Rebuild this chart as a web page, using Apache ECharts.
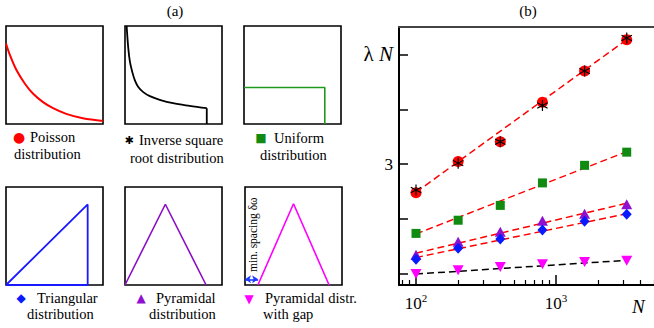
<!DOCTYPE html>
<html><head><meta charset="utf-8">
<script src="https://cdn.jsdelivr.net/npm/echarts@6/dist/echarts.min.js"></script>
<style>html,body{margin:0;padding:0;background:#fff}#c{width:654px;height:328px}</style>
</head><body><div id="c"></div>
<script>
// ---------- panel (b) data ----------
const sizesN = [100, 200, 400, 800, 1600, 3200];
const poissonVals = [2.48, 3.05, 3.41, 4.13, 4.70, 5.27];
const invSqrtVals = [2.53, 3.02, 3.41, 4.07, 4.70, 5.30];
const uniformVals = [1.74, 1.98, 2.25, 2.66, 2.98, 3.22];
const pyramidVals = [1.35, 1.59, 1.77, 1.97, 2.10, 2.27];
const triangVals = [1.27, 1.47, 1.64, 1.80, 1.96, 2.09];
const gapVals = [1.00, 1.07, 1.13, 1.18, 1.22, 1.24];
const fitN = [100, 3200];
const fitPoisson = [2.49, 5.27];
const fitUniform = [1.73, 3.23];
const fitPyramid = [1.38, 2.29];
const fitTriang = [1.30, 2.10];
const fitGap = [1.00, 1.25];
const xMajorTicks = [100, 1000];
const xMajorLabels = ['10|2', '10|3'];
const xMinorTicks = [80, 90, 200, 300, 400, 500, 600, 700, 800, 900, 2000, 3000, 4000, 5000];
const yTicks = [1, 2, 3, 4, 5];
const yLabels = [3, 5];

// ---------- panel (a) data ----------
const poissonX = [0, 0.041, 0.109, 0.195, 0.28, 0.382, 0.485, 0.621, 0.792, 1];
const poissonY = [0.822, 0.702, 0.548, 0.411, 0.308, 0.223, 0.161, 0.103, 0.058, 0.031];
const invX = [0.017, 0.034, 0.051, 0.075, 0.102, 0.137, 0.188, 0.256, 0.358, 0.495, 0.666, 0.843];
const invY = [1.0, 0.771, 0.634, 0.531, 0.445, 0.377, 0.325, 0.284, 0.247, 0.212, 0.185, 0.161];
const invDropX = [0.843, 0.843];
const invDropY = [0.161, 0];
const uniX = [0, 0.833, 0.833];
const uniY = [0.373, 0.373, 0];
const triX = [0, 0.842, 0.842, 0];
const triY = [0, 0.822, 0, 0];
const pyrX = [0, 0.416, 0.836];
const pyrY = [0, 0.824, 0];
const gapX = [0.133, 0.50, 0.867];
const gapY = [0, 0.829, 0];
const arrowX = [0, 0.135];
const arrowY = [0.058, 0.058];

const SERIF = "'Liberation Serif','Times New Roman',serif";
const zip = (xs, ys) => xs.map((x, i) => [x, ys[i]]);

const boxes = [
  {left: 6, top: 26}, {left: 125, top: 26}, {left: 244, top: 26},
  {left: 6, top: 187}, {left: 125, top: 187}, {left: 245, top: 187}
];
const grids = boxes.map(b => ({left: b.left, top: b.top, width: 97, height: 98, show: true,
  borderColor: '#000', borderWidth: 1.6, backgroundColor: 'transparent'}));
grids.push({left: 399, top: 27, right: 0, bottom: 43});

const xAxes = boxes.map((b, i) => ({gridIndex: i, type: 'value', min: 0, max: 1, show: false}));
const yAxes = boxes.map((b, i) => ({gridIndex: i, type: 'value', min: 0, max: 1, show: false}));
const xMin = 75.6, xMax = 5012;
xAxes.push({gridIndex: 6, type: 'log', logBase: 10, min: xMin, max: xMax, position: 'bottom',
  axisLine: {show: true, lineStyle: {color: '#000', width: 2}},
  axisTick: {show: true, inside: true, length: 10, customValues: xMajorTicks, lineStyle: {color: '#000', width: 1.5}},
  axisLabel: {show: true, customValues: xMajorTicks, margin: 4, color: '#000', fontFamily: SERIF,
    formatter: v => {
      const i = xMajorTicks.findIndex(t => Math.abs(t - v) / t < 1e-6);
      const parts = xMajorLabels[i < 0 ? 0 : i].split('|');
      return '{b|' + parts[0] + '}{s|' + parts[1] + '}';
    },
    rich: {b: {fontFamily: SERIF, fontSize: 17, color: '#000', padding: [6, 0, 0, 0]},
      s: {fontFamily: SERIF, fontSize: 11, color: '#000', padding: [0, 0, 6, 0]}}},
  splitLine: {show: false}, minorTick: {show: false},
  name: 'N', nameLocation: 'end', nameGap: -22,
  nameTextStyle: {fontFamily: SERIF, fontStyle: 'italic', fontSize: 19, color: '#000', verticalAlign: 'top', padding: [12, 0, 0, 0]}
});
xAxes.push({gridIndex: 6, type: 'log', logBase: 10, min: xMin, max: xMax, position: 'bottom',
  axisLine: {show: false},
  axisTick: {show: true, inside: true, length: 5, customValues: xMinorTicks, lineStyle: {color: '#000', width: 1.2}},
  axisLabel: {show: false}, splitLine: {show: false}
});
xAxes.push({gridIndex: 6, type: 'log', logBase: 10, min: xMin, max: xMax, position: 'top',
  axisLine: {show: true, lineStyle: {color: '#444', width: 2}},
  axisTick: {show: false}, axisLabel: {show: false}, splitLine: {show: false}
});
yAxes.push({gridIndex: 6, type: 'value', min: 0.8, max: 5.5,
  axisLine: {show: true, lineStyle: {color: '#000', width: 2}},
  axisTick: {show: true, inside: true, length: 9, customValues: yTicks, lineStyle: {color: '#000', width: 1.5}},
  axisLabel: {show: true, customValues: yLabels, margin: 6, color: '#000', fontFamily: SERIF,
    formatter: v => (v === 5 ? '{l|\u03BB }{n|N}' : '{t|3}'),
    rich: {l: {fontFamily: SERIF, fontSize: 21, color: '#000'}, n: {fontFamily: SERIF, fontSize: 21, fontStyle: 'italic', color: '#000'},
      t: {fontFamily: SERIF, fontSize: 17, color: '#000'}}},
  splitLine: {show: false}
});

function small(i, xs, ys, color, w, smooth) {
  return {type: 'line', xAxisIndex: i, yAxisIndex: i, data: zip(xs, ys), symbol: 'none',
    smooth: smooth ? 0.35 : false,
    lineStyle: {color: color, width: w}, clip: true, silent: true, z: 3};
}
const series = [
  small(0, poissonX, poissonY, '#ff0000', 2, true),
  small(1, invX, invY, '#000', 1.8, true),
  small(1, invDropX, invDropY, '#000', 1.8, false),
  small(2, uniX, uniY, '#1f9a1f', 1.6, false),
  small(3, triX, triY, '#1a1aff', 1.8, false),
  small(4, pyrX, pyrY, '#8a10c8', 1.6, false),
  small(5, gapX, gapY, '#ff00ff', 1.6, false),
  {type: 'line', xAxisIndex: 5, yAxisIndex: 5, data: [], symbol: 'none',
    markLine: {silent: true, symbol: ['arrow', 'arrow'], symbolSize: [6, 6], label: {show: false},
      lineStyle: {color: '#1a3aff', width: 1.6, type: 'solid'},
      data: [[{coord: [arrowX[0], arrowY[0]]}, {coord: [arrowX[1], arrowY[1]]}]]}}
];

function fit(vals, color) {
  return {type: 'line', xAxisIndex: 6, yAxisIndex: 6, data: zip(fitN, vals), symbol: 'none',
    lineStyle: {color: color, width: 1.5, type: [7, 4]}, z: 2, silent: true};
}
series.push(fit(fitPoisson, '#ff0000'), fit(fitUniform, '#ff0000'), fit(fitPyramid, '#ff0000'),
  fit(fitTriang, '#ff0000'), fit(fitGap, '#000'));

const asterisk = 'path://M-1,-10L1,-10L1,10L-1,10Z M9.16,4.134L8.16,5.866L-9.16,-4.134L-8.16,-5.866Z M8.16,-5.866L9.16,-4.134L-8.16,5.866L-9.16,4.134Z';
function marks(vals, symbol, size, color, extra) {
  return Object.assign({type: 'scatter', xAxisIndex: 6, yAxisIndex: 6, data: zip(sizesN, vals), symbol: symbol,
    symbolSize: size, itemStyle: {color: color, opacity: 1}, z: 5, silent: true, clip: false}, extra || {});
}
series.push(
  marks(poissonVals, 'circle', 11, '#ff0000'),
  marks(invSqrtVals, asterisk, 11, '#000', {z: 6}),
  marks(uniformVals, 'rect', 9, '#118a11'),
  marks(pyramidVals, 'triangle', [11, 10], '#9010d0'),
  marks(triangVals, 'diamond', [10, 11], '#0a1aff'),
  marks(gapVals, 'triangle', [11, 10], '#ff00ff', {symbolRotate: 180})
);

function txt(x, y, text, opt) {
  return {type: 'text', x: x, y: y, silent: true, style: Object.assign({text: text, fontFamily: SERIF, fontSize: 14.5,
    fill: '#000', textAlign: 'left', textVerticalAlign: 'middle'}, opt || {})};
}
function glyph(x, y, ch, color, size) {
  return {type: 'text', x: x, y: y, silent: true, style: {text: ch, fontFamily: "'DejaVu Sans',sans-serif", fontSize: size,
    fill: color, textAlign: 'center', textVerticalAlign: 'middle'}};
}
const graphics = [
  txt(175, 11, '(a)', {textAlign: 'center', fontSize: 15}),
  txt(528, 11, '(b)', {textAlign: 'center', fontSize: 15}),
  glyph(19, 137, '\u25CF', '#ff0000', 14), txt(30, 137, 'Poisson'), txt(14, 154, 'distribution'),
  glyph(129, 140, '\u2731', '#000', 11), txt(139, 140, 'Inverse square'), txt(130, 158, 'root distribution'),
  glyph(261, 138, '\u25A0', '#118a11', 12), txt(274, 138, 'Uniform'), txt(260, 155, 'distribution'),
  glyph(21, 298, '\u25C6', '#0a1aff', 12), txt(37, 298, 'Triangular'), txt(27, 314, 'distribution'),
  glyph(141, 298, '\u25B2', '#9010d0', 12), txt(156, 298, 'Pyramidal'), txt(149, 314, 'distribution'),
  glyph(249, 299, '\u25BC', '#ff00ff', 12), txt(265, 298, 'Pyramidal distr.'), txt(263, 314, 'with gap'),
  {type: 'text', x: 253, y: 272, rotation: Math.PI / 2, silent: true,
    style: {text: 'min. spacing \u03B4\u03C9', fontFamily: SERIF, fontSize: 11.5, fill: '#000', textAlign: 'left', textVerticalAlign: 'middle'}}
];

const chart = echarts.init(document.getElementById('c'), null, {renderer: 'svg'});
chart.setOption({
  animation: false, backgroundColor: '#fff',
  grid: grids, xAxis: xAxes, yAxis: yAxes, series: series, graphic: graphics
});
</script></body></html>
